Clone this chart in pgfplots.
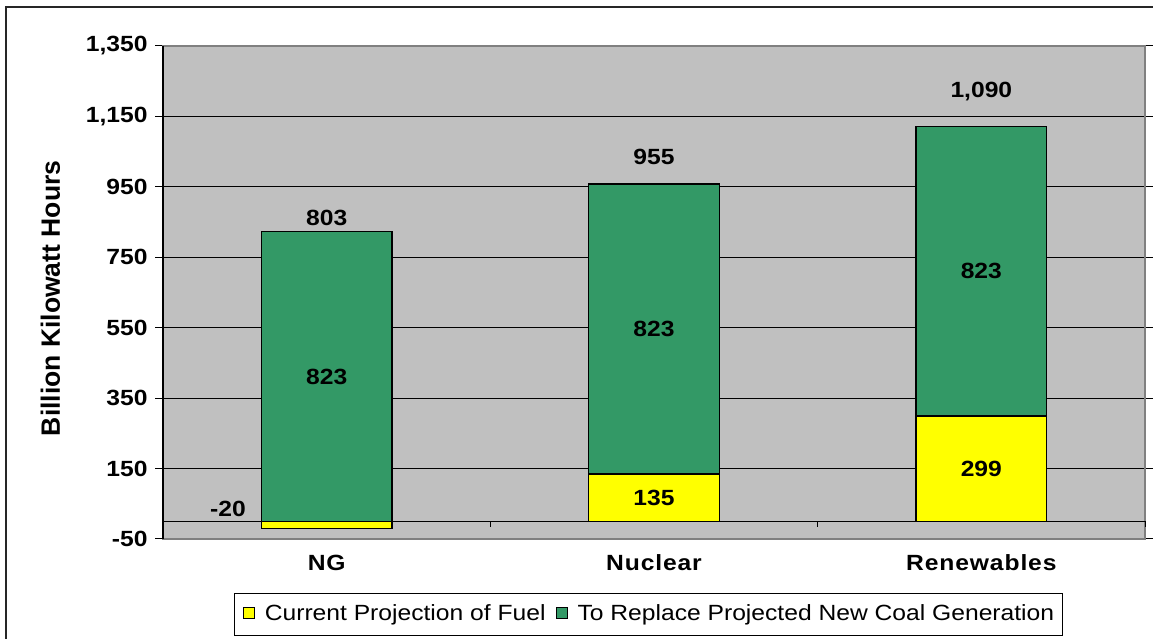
\documentclass[border=0pt]{standalone}
\usepackage{fontspec}
\setmainfont[FakeStretch=1.12]{Liberation Sans}
\newfontfamily\ylabfont{Liberation Sans}
\usepackage{pgfplots}
\usepackage{pgfplotstable}
\pgfplotsset{compat=1.18}
\definecolor{plotgray}{HTML}{C0C0C0}
\definecolor{barGreen}{HTML}{339966}
\definecolor{barYellow}{HTML}{FFFF00}
\definecolor{frameGray}{HTML}{808080}

% positive parts (stacked)
\pgfplotstableread{
x fuel coal
0 0 823
1 135 823
2 299 823
}\datatable
% negative part of "Current Projection of Fuel" (NG)
\pgfplotstableread{
x fuel
0 -20
}\negtable

\begin{document}
\begin{tikzpicture}[lbl/.style={font=\fontsize{22}{26}\selectfont\bfseries, text depth=0pt, anchor=center, inner sep=0pt}]
\useasboundingbox (0,0) rectangle (1153pt,639pt);
\draw[line width=1.5pt, black!85] (6pt,0) -- (6pt,632pt) -- (1153pt,632pt);
\begin{axis}[
  at={(163pt,100pt)}, anchor=south west, scale only axis,
  width=982pt, height=493pt,
  xmin=-0.5, xmax=2.5, ymin=-50, ymax=1350,
  ybar stacked, bar width=0.4,
  axis background/.style={fill=plotgray},
  axis line style={draw=frameGray, line width=2pt},
  ytick={-50,150,350,550,750,950,1150,1350},
  yticklabels={-50,150,350,550,750,950,{1,150},{1,350}},
  ymajorgrids, grid style={black, line width=0.9pt},
  tick align=outside, major tick length=8pt,
  ytick style={black, line width=1pt},
  xtick={0,1,2}, xticklabels={NG,Nuclear,Renewables},
  xtick style={draw=none},
  yticklabel style={font=\fontsize{22}{26}\selectfont\bfseries, anchor=east, xshift=-4pt},
  xticklabel style={anchor=base, yshift=-24pt, font=\fontsize{22}{26}\selectfont\bfseries\addfontfeature{LetterSpace=4}},
  ylabel={Billion Kilowatt Hours},
  ylabel style={at={(axis description cs:-0.1146,0.488)}, anchor=center,
    font=\ylabfont\fontsize{26.5}{30}\selectfont\bfseries},
  legend columns=2,
  legend style={at={(axis description cs:0.4944,-0.154)}, anchor=center,
    draw=black, line width=1pt, fill=white,
    font=\fontsize{22}{26}\selectfont,
    nodes={inner sep=0pt, text height=16pt, text depth=5pt},
    column sep=10pt, inner xsep=8.5pt, inner ysep=10.5pt},
  legend image code/.code={\draw[#1, line width=1pt] (0pt,-4pt) rectangle (11pt,7pt);},
]
\addplot[fill=barYellow, draw=black, line width=1.3pt] table[x=x,y=fuel]{\datatable};
\addlegendentry{Current Projection of Fuel}
\addplot[fill=barGreen, draw=black, line width=1.3pt] table[x=x,y=coal]{\datatable};
\addlegendentry{To Replace Projected New Coal Generation}
\end{axis}
\begin{axis}[
  at={(163pt,100pt)}, anchor=south west, scale only axis,
  width=982pt, height=493pt,
  xmin=-0.5, xmax=2.5, ymin=-50, ymax=1350,
  ybar, bar width=0.4, bar shift=0pt, hide axis, clip=false,
]
\addplot[fill=barYellow, draw=black, line width=1.3pt] table[x=x,y=fuel]{\negtable};
\draw[black, line width=1pt] (axis cs:-0.5,0) -- (axis cs:2.5,0);
\draw[black, line width=1pt] (axis cs:0.5,0) -- ([yshift=-6pt]axis cs:0.5,0);
\draw[black, line width=1pt] (axis cs:1.5,0) -- ([yshift=-6pt]axis cs:1.5,0);
\draw[black, line width=1pt] (axis cs:2.5,0) -- ([yshift=-6pt]axis cs:2.5,0);
\draw[black, line width=1.2pt] (rel axis cs:0,0) -- (rel axis cs:0,1);
\node[lbl] at (axis cs:0,411.5) {823};
\node[lbl] at (axis cs:1,546.5) {823};
\node[lbl] at (axis cs:2,710.5) {823};
\node[lbl] at (axis cs:1,67.5) {135};
\node[lbl] at (axis cs:2,149.5) {299};
\node[lbl] at (axis cs:-0.3014,35) {-20};
\node[lbl] at (axis cs:0,863) {803};
\node[lbl] at (axis cs:1,1035) {955};
\node[lbl] at (axis cs:2,1226) {1,090};
\end{axis}
\end{tikzpicture}
\end{document}
